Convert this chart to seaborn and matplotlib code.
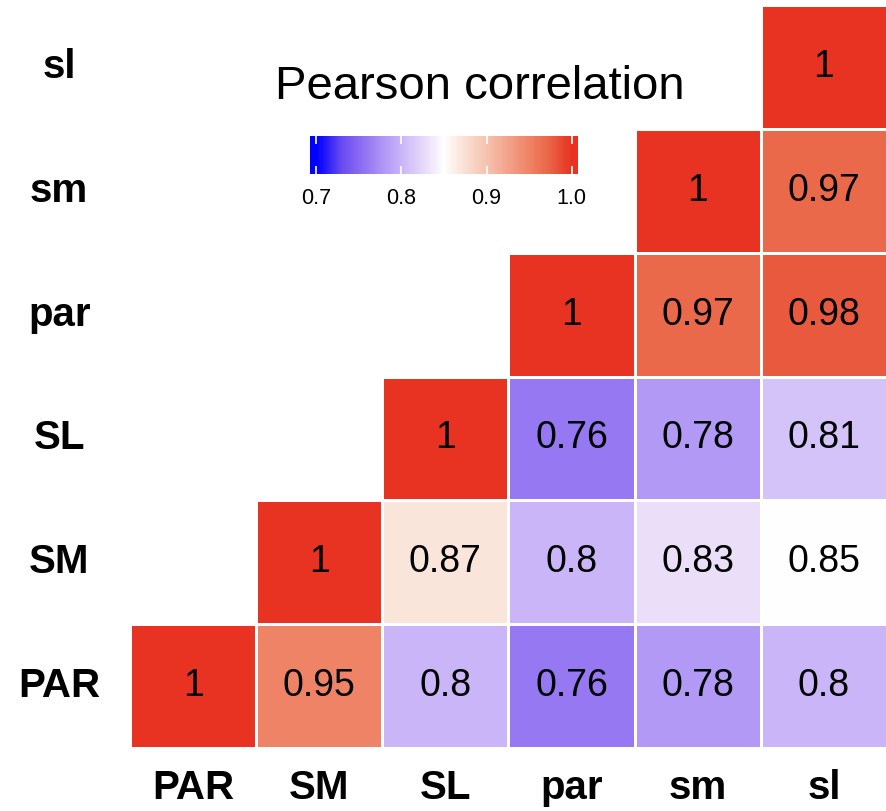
import numpy as np
import pandas as pd
import matplotlib
matplotlib.use("Agg")
import matplotlib.pyplot as plt
import seaborn as sns
from matplotlib.colors import LinearSegmentedColormap

labels = ["PAR", "SM", "SL", "par", "sm", "sl"]
row_PAR = [1.00, 0.95, 0.80, 0.76, 0.78, 0.80]
row_SM = [0.95, 1.00, 0.87, 0.80, 0.83, 0.85]
row_SL = [0.80, 0.87, 1.00, 0.76, 0.78, 0.81]
row_par = [0.76, 0.80, 0.76, 1.00, 0.97, 0.98]
row_sm = [0.78, 0.83, 0.78, 0.97, 1.00, 0.97]
row_sl = [0.80, 0.85, 0.81, 0.98, 0.97, 1.00]
cbar_ticks = [0.7, 0.8, 0.9, 1.0]
cbar_ticklabels = ["0.7", "0.8", "0.9", "1.0"]

sns.set_theme(style="white")
plt.rcParams["font.family"] = ["Liberation Sans", "DejaVu Sans"]
plt.rcParams["text.color"] = "black"
plt.rcParams["xtick.labelcolor"] = "black"
plt.rcParams["ytick.labelcolor"] = "black"

mat = pd.DataFrame([row_PAR, row_SM, row_SL, row_par, row_sm, row_sl],
                   index=labels, columns=labels)
mat = mat.iloc[::-1]  # top row = sl

n = len(labels)
mask = np.zeros((n, n), dtype=bool)
for i in range(n):
    for j in range(n):
        if j < n - 1 - i:
            mask[i, j] = True

vmin, vmax = 0.6925, 1.0075
stops = [(0.70, "#0000FF"), (0.73, "#6A4BF0"), (0.76, "#9779F2"),
         (0.78, "#B199F5"), (0.80, "#C9B5F8"), (0.83, "#EADFF9"),
         (0.85, "#FFFFFF"), (0.87, "#FAE5DB"), (0.90, "#F5C3B0"),
         (0.95, "#EE8467"), (0.97, "#EB6A4C"), (0.98, "#E95A3E"),
         (1.00, "#E83323")]
pos = [(v - vmin) / (vmax - vmin) for v, _ in stops]
pos = [0.0] + pos + [1.0]
cols = [stops[0][1]] + [c for _, c in stops] + [stops[-1][1]]
cmap = LinearSegmentedColormap.from_list("pc", list(zip(pos, cols)))

fig = plt.figure(figsize=(8.87, 8.11), dpi=100)
ax = fig.add_axes([130 / 887, 63 / 811, 757 / 887, 743 / 811])
cax = fig.add_axes([310 / 887, (811 - 174) / 811, 268 / 887, 38 / 811])

sns.heatmap(mat, mask=mask, cmap=cmap, vmin=vmin, vmax=vmax,
            annot=True, fmt="g", annot_kws={"fontsize": 27, "color": "black"},
            linewidths=0.8, linecolor="white", square=False,
            cbar=True, cbar_ax=cax, cbar_kws={"orientation": "horizontal"},
            ax=ax)

ax.set_xlabel("")
ax.set_ylabel("")
ax.tick_params(axis="both", length=0)
ax.tick_params(axis="x", pad=15)
ax.tick_params(axis="y", pad=51)
for t in ax.get_xticklabels():
    t.set_fontsize(29)
    t.set_fontweight("bold")
    t.set_rotation(0)
    t.set_color("black")
for t in ax.get_yticklabels():
    t.set_fontsize(29)
    t.set_fontweight("bold")
    t.set_rotation(0)
    t.set_ha("center")
    t.set_va("center")
    t.set_color("black")

cb = ax.collections[0].colorbar
cb.outline.set_visible(False)
cb.set_ticks(cbar_ticks)
cb.set_ticklabels(cbar_ticklabels)
cax.tick_params(axis="x", direction="in", length=6, width=1.2, color="white",
                top=True, bottom=True, pad=10, labelsize=15.5,
                labelcolor="black")
cax.set_axisbelow(False)

fig.text(480 / 887, 1 - 87 / 811, "Pearson correlation", fontsize=34,
         ha="center", va="center", color="black")

fig.savefig("out.png", dpi=100)
